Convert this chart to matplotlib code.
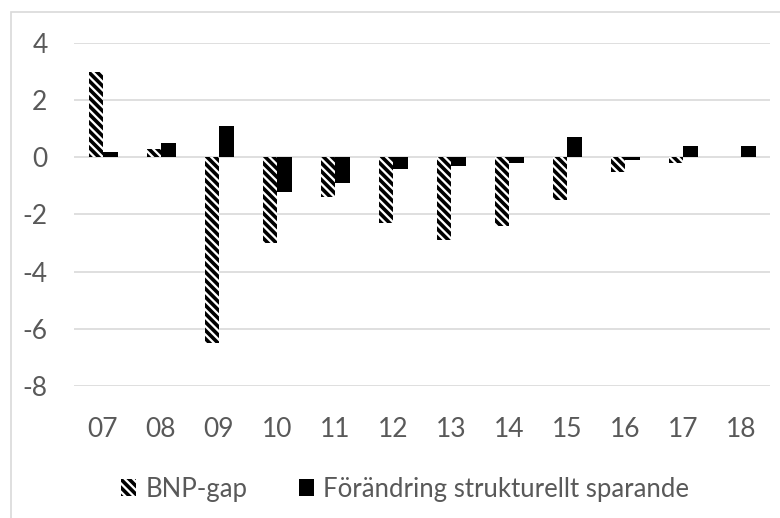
import matplotlib.pyplot as plt
import matplotlib.patches as mpatches
import numpy as np

# data
years = ['07', '08', '09', '10', '11', '12', '13', '14', '15', '16', '17', '18']
bnp_gap = [3.0, 0.3, -6.5, -3.0, -1.4, -2.3, -2.9, -2.4, -1.5, -0.5, -0.2, 0.0]
forandring = [0.2, 0.5, 1.1, -1.2, -0.9, -0.4, -0.3, -0.2, 0.7, -0.1, 0.4, 0.4]

txt = '#595959'
grid = '#d9d9d9'
plt.rcParams['font.family'] = ['Lato', 'DejaVu Sans']
plt.rcParams['axes.unicode_minus'] = False
plt.rcParams['hatch.linewidth'] = 2.6
plt.rcParams['hatch.color'] = 'black'

fig = plt.figure(figsize=(7.8, 5.18), dpi=100)
ax = fig.add_axes([74 / 780, 1 - 386 / 518, (770 - 74) / 780, (386 - 43) / 518])

# light frame around the chart area
fig.patches.append(mpatches.Rectangle((11 / 780, -0.1), 1.0, 1 - 12 / 518 + 0.1,
                                      transform=fig.transFigure, fill=False,
                                      edgecolor=grid, linewidth=1.2))

x = np.arange(len(years))
w = 0.25
ax.bar(x - w / 2, bnp_gap, w, color='white', edgecolor='black', linewidth=0,
       hatch='\\\\\\\\', label='BNP-gap')
ax.bar(x + w / 2, forandring, w, color='black', linewidth=0,
       label='Förändring strukturellt sparande')

ax.set_xlim(-0.5, len(years) - 0.5)
ax.set_ylim(-8, 4)
ax.set_yticks([4, 2, 0, -2, -4, -6, -8])
ax.set_xticks(x)
ax.set_xticklabels(years)
ax.yaxis.grid(True, color=grid, linewidth=1.2)
ax.set_axisbelow(True)
for s in ax.spines.values():
    s.set_visible(False)
ax.tick_params(axis='both', length=0, colors=txt, labelsize=19)
ax.tick_params(axis='y', pad=19)
ax.tick_params(axis='x', pad=22)

fig.legend(loc='center', bbox_to_anchor=(0.519, 1 - 489 / 518), ncol=2,
           frameon=False, fontsize=18.5, labelcolor=txt, handlelength=0.6,
           handleheight=0.6, handletextpad=0.35, columnspacing=2.0)

fig.savefig('out.png', dpi=100)
